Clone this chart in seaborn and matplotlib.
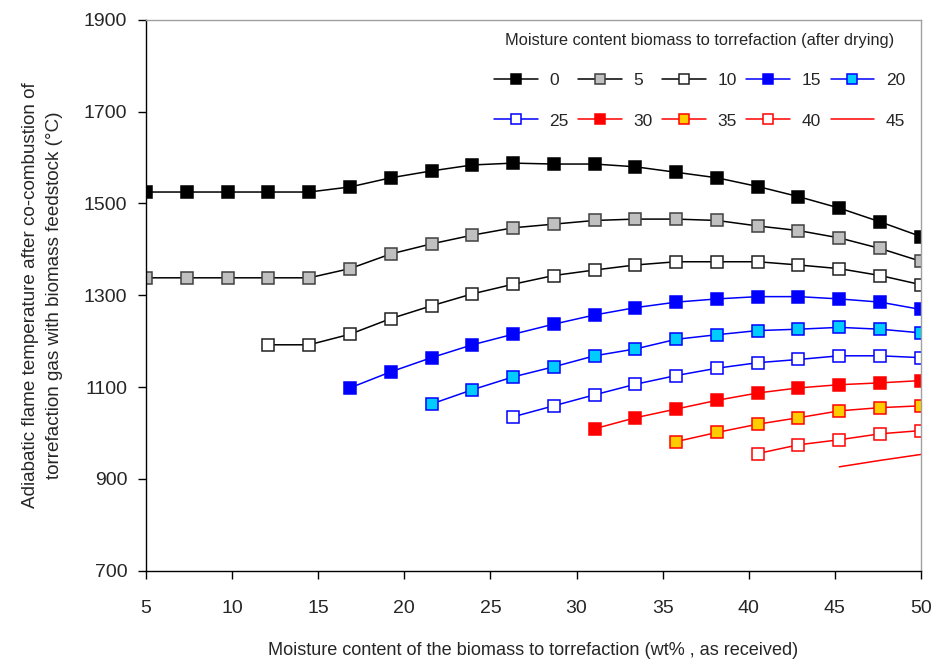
import matplotlib
matplotlib.use("Agg")
import matplotlib.pyplot as plt
import seaborn as sns
import pandas as pd

# Moisture content of the biomass as received (wt%), 20 evaluation points
moisture_received = [5.0, 7.37, 9.74, 12.11, 14.47, 16.84, 19.21, 21.58, 23.95, 26.32,
                     28.68, 31.05, 33.42, 35.79, 38.16, 40.53, 42.89, 45.26, 47.63, 50.0]

# Adiabatic flame temperature (°C) per moisture content after drying (wt%)
t_dry0 = [1525, 1525, 1525, 1525, 1525, 1536, 1556, 1571, 1584, 1588,
          1586, 1586, 1580, 1568, 1556, 1537, 1515, 1490, 1460, 1428]
t_dry5 = [1338, 1338, 1338, 1338, 1338, 1358, 1390, 1412, 1431, 1447,
          1455, 1463, 1466, 1466, 1463, 1451, 1441, 1425, 1402, 1374]
t_dry10 = [None, None, None, 1192, 1192, 1215, 1249, 1277, 1303, 1324,
           1343, 1355, 1366, 1373, 1373, 1373, 1366, 1358, 1343, 1323]
t_dry15 = [None, None, None, None, None, 1098, 1133, 1164, 1192, 1215,
           1237, 1257, 1273, 1285, 1292, 1297, 1297, 1292, 1285, 1269]
t_dry20 = [None, None, None, None, None, None, None, 1063, 1094, 1122,
           1144, 1168, 1183, 1204, 1214, 1223, 1226, 1230, 1226, 1218]
t_dry25 = [None, None, None, None, None, None, None, None, None, 1035,
           1059, 1083, 1106, 1125, 1141, 1153, 1160, 1168, 1168, 1164]
t_dry30 = [None, None, None, None, None, None, None, None, None, None,
           None, 1009, 1033, 1052, 1071, 1087, 1098, 1105, 1109, 1114]
t_dry35 = [None, None, None, None, None, None, None, None, None, None,
           None, None, None, 981, 1001, 1019, 1033, 1048, 1055, 1059]
t_dry40 = [None, None, None, None, None, None, None, None, None, None,
           None, None, None, None, None, 955, 974, 985, 998, 1005]
t_dry45 = [None, None, None, None, None, None, None, None, None, None,
           None, None, None, None, None, None, None, 926, 940, 953]

series_labels = ["0", "5", "10", "15", "20", "25", "30", "35", "40", "45"]
series_values = [t_dry0, t_dry5, t_dry10, t_dry15, t_dry20,
                 t_dry25, t_dry30, t_dry35, t_dry40, t_dry45]

x_ticks = [5, 10, 15, 20, 25, 30, 35, 40, 45, 50]
y_ticks = [700, 900, 1100, 1300, 1500, 1700, 1900]

# line colour, marker, marker face, marker edge
styles = {
    "0":  ("#000000", "s", "#000000", "#000000"),
    "5":  ("#000000", "s", "#C0C0C0", "#404040"),
    "10": ("#000000", "s", "#FFFFFF", "#202020"),
    "15": ("#0000FF", "s", "#0000FF", "#0000FF"),
    "20": ("#0000FF", "s", "#00CCFF", "#0000FF"),
    "25": ("#0000FF", "s", "#FFFFFF", "#0000FF"),
    "30": ("#FF0000", "s", "#FF0000", "#FF0000"),
    "35": ("#FF0000", "s", "#FFCC00", "#FF0000"),
    "40": ("#FF0000", "s", "#FFFFFF", "#FF0000"),
    "45": ("#FF0000", None, "none", "none"),
}

rows = []
for lab, vals in zip(series_labels, series_values):
    for xv, yv in zip(moisture_received, vals):
        if yv is not None:
            rows.append({"received": xv, "temp": yv, "dried": lab})
df = pd.DataFrame(rows)

sns.set_style("ticks")
plt.rcParams["font.family"] = ["Liberation Sans", "DejaVu Sans"]

fig = plt.figure(figsize=(9.34, 6.64), dpi=100)
ax = fig.add_axes([0.1563, 0.1408, 0.8297, 0.8291])

handles = {}
for lab in series_labels:
    color, marker, mfc, mec = styles[lab]
    sub = df[df["dried"] == lab]
    sns.lineplot(data=sub, x="received", y="temp", ax=ax, color=color,
                 marker=marker, markersize=8, markerfacecolor=mfc,
                 markeredgecolor=mec, markeredgewidth=1.1, linewidth=1.1,
                 label=lab, legend=False, estimator=None, sort=True)
    handles[lab] = ax.lines[-1]

ax.set_xlim(5, 50)
ax.set_ylim(700, 1900)
ax.set_xticks(x_ticks)
ax.set_yticks(y_ticks)
ax.tick_params(axis="both", labelsize=14, length=5.5, width=1, color="black")
ax.tick_params(axis="x", pad=16)
ax.tick_params(axis="y", pad=8)

for side in ["left", "bottom"]:
    ax.spines[side].set_color("black")
    ax.spines[side].set_linewidth(1)
for side in ["top", "right"]:
    ax.spines[side].set_visible(True)
    ax.spines[side].set_color("#A0A0A0")
    ax.spines[side].set_linewidth(1)

ax.set_xlabel("Moisture content of the biomass to torrefaction (wt% , as received)",
              fontsize=13.1, labelpad=18)
ax.set_ylabel("Adiabatic flame temperature after co-combustion of\n"
              "torrefaction gas with biomass feedstock (°C)",
              fontsize=13.6, labelpad=15, linespacing=1.55)

# legend filled row by row: reorder for matplotlib's column-major layout
order = ["0", "25", "5", "30", "10", "35", "15", "40", "20", "45"]
leg = ax.legend([handles[k] for k in order], order, ncol=5, frameon=False,
                loc="upper right", bbox_to_anchor=(1.0, 1.005),
                title="Moisture content biomass to torrefaction (after drying)",
                fontsize=12.5, title_fontsize=11.8,
                handlelength=2.5, handletextpad=0.68, columnspacing=0.55,
                labelspacing=1.45, markerscale=0.85)

fig.savefig("out.png", dpi=100)
